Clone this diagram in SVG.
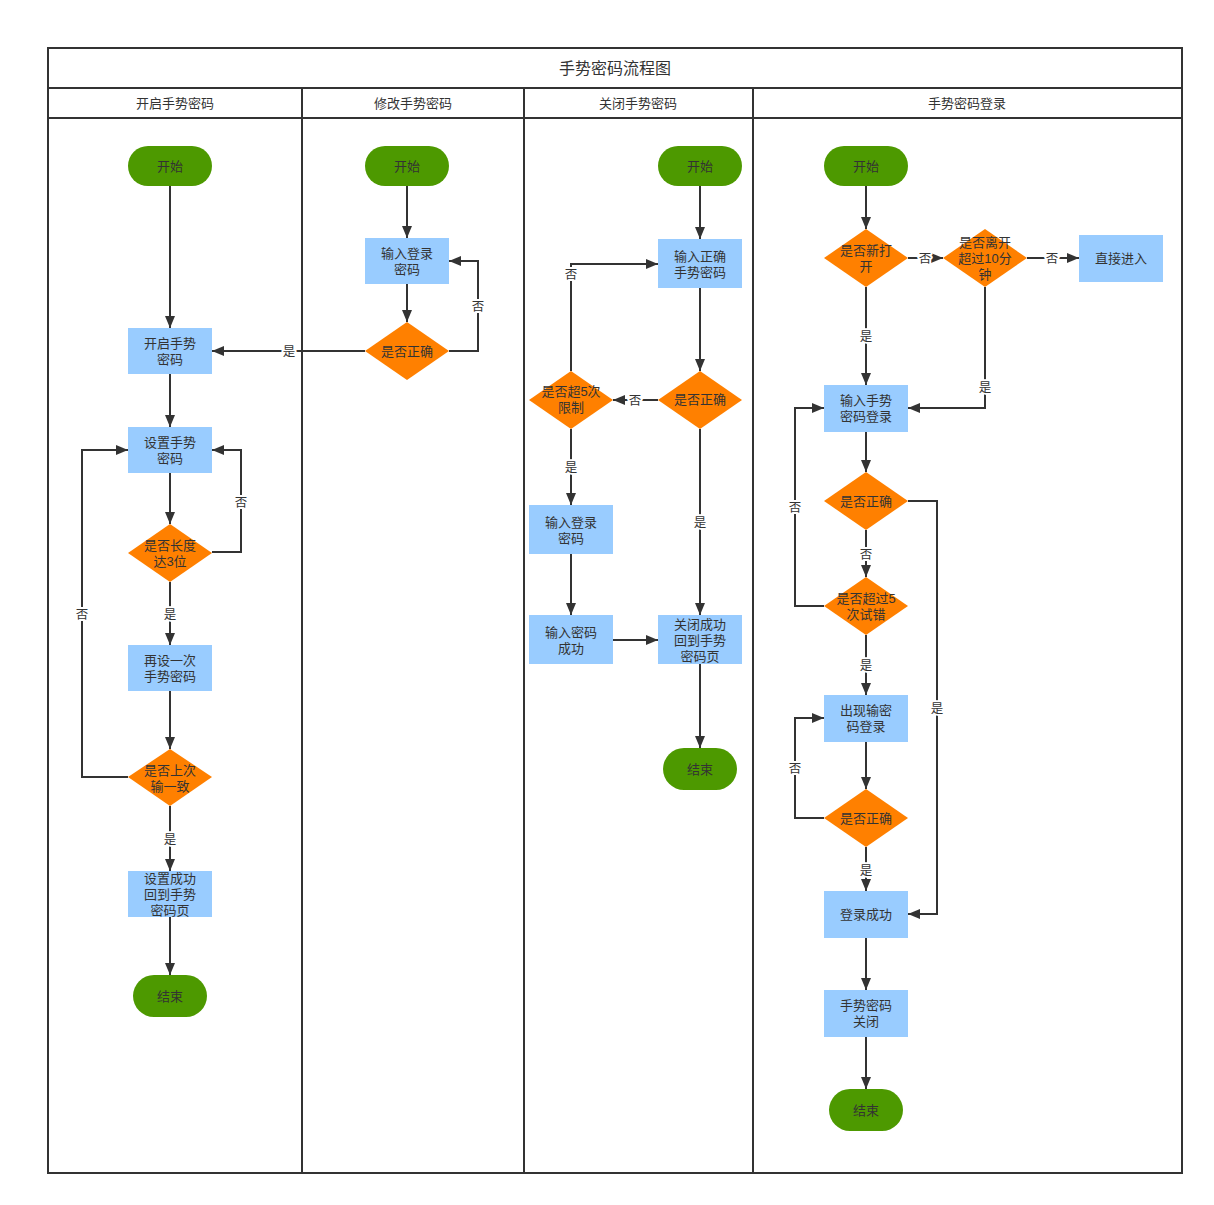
<svg xmlns="http://www.w3.org/2000/svg" width="1214" height="1205" viewBox="0 0 1214 1205">
<defs>
<style>
text{font-family:"Liberation Sans","Noto Sans CJK SC",sans-serif;fill:#333;text-anchor:middle;dominant-baseline:central;font-size:13px;transform:translate(0px,1px)}
.frame{fill:none;stroke:#333;stroke-width:2}
.term{fill:#4d9900}
.proc{fill:#99ccff}
.dec{fill:#ff8000}
.edge{fill:none;stroke:#333;stroke-width:2}
.lbl{stroke:#fff;stroke-width:4;paint-order:stroke;stroke-linejoin:round;font-size:12.5px}
.title{font-size:16px}
.hdr{font-size:13px}
</style>
<marker id="arr" markerWidth="12" markerHeight="12" viewBox="0 0 12 12" refX="12" refY="6" orient="auto" markerUnits="userSpaceOnUse">
<path d="M0,1 L12,6 L0,11 Z" fill="#333"/>
</marker>
</defs>
<rect width="1214" height="1205" fill="#fff"/>
<g id="pool">
<rect class="frame" x="48" y="48" width="1134" height="1125"/>
<line class="frame" x1="48" y1="88" x2="1182" y2="88"/>
<line class="frame" x1="48" y1="118" x2="1182" y2="118"/>
<line class="frame" x1="302" y1="88" x2="302" y2="1173"/>
<line class="frame" x1="524" y1="88" x2="524" y2="1173"/>
<line class="frame" x1="753" y1="88" x2="753" y2="1173"/>
<text class="title" x="615" y="67">手势密码流程图</text>
<text class="hdr" x="175" y="102">开启手势密码</text>
<text class="hdr" x="413" y="102">修改手势密码</text>
<text class="hdr" x="638" y="102">关闭手势密码</text>
<text class="hdr" x="967" y="102">手势密码登录</text>
</g>
<g id="connectors">
<path class="edge" d="M170,186 V328" marker-end="url(#arr)"/>
<path class="edge" d="M170,374 V427" marker-end="url(#arr)"/>
<path class="edge" d="M170,473 V524" marker-end="url(#arr)"/>
<path class="edge" d="M212,552 H241 V450 H212" marker-end="url(#arr)"/>
<path class="edge" d="M170,582 V645" marker-end="url(#arr)"/>
<path class="edge" d="M170,691 V749" marker-end="url(#arr)"/>
<path class="edge" d="M128,777 H82 V450 H128" marker-end="url(#arr)"/>
<path class="edge" d="M170,806 V871" marker-end="url(#arr)"/>
<path class="edge" d="M170,917 V975" marker-end="url(#arr)"/>
<path class="edge" d="M407,186 V238" marker-end="url(#arr)"/>
<path class="edge" d="M407,284 V322" marker-end="url(#arr)"/>
<path class="edge" d="M449,351 H478 V261 H449" marker-end="url(#arr)"/>
<path class="edge" d="M365,351 H212" marker-end="url(#arr)"/>
<path class="edge" d="M700,186 V239" marker-end="url(#arr)"/>
<path class="edge" d="M700,288 V371" marker-end="url(#arr)"/>
<path class="edge" d="M658,400 H613" marker-end="url(#arr)"/>
<path class="edge" d="M571,371 V264 H658" marker-end="url(#arr)"/>
<path class="edge" d="M571,429 V505" marker-end="url(#arr)"/>
<path class="edge" d="M571,554 V615" marker-end="url(#arr)"/>
<path class="edge" d="M613,640 H658" marker-end="url(#arr)"/>
<path class="edge" d="M700,429 V615" marker-end="url(#arr)"/>
<path class="edge" d="M700,664 V748" marker-end="url(#arr)"/>
<path class="edge" d="M866,186 V229" marker-end="url(#arr)"/>
<path class="edge" d="M908,258 H943" marker-end="url(#arr)"/>
<path class="edge" d="M1027,258 H1079" marker-end="url(#arr)"/>
<path class="edge" d="M866,287 V385" marker-end="url(#arr)"/>
<path class="edge" d="M985,287 V408 H908" marker-end="url(#arr)"/>
<path class="edge" d="M866,432 V472" marker-end="url(#arr)"/>
<path class="edge" d="M866,530 V577" marker-end="url(#arr)"/>
<path class="edge" d="M908,501 H937 V914 H908" marker-end="url(#arr)"/>
<path class="edge" d="M824,606 H795 V408 H824" marker-end="url(#arr)"/>
<path class="edge" d="M866,635 V695" marker-end="url(#arr)"/>
<path class="edge" d="M866,742 V789" marker-end="url(#arr)"/>
<path class="edge" d="M824,818 H795 V718 H824" marker-end="url(#arr)"/>
<path class="edge" d="M866,847 V891" marker-end="url(#arr)"/>
<path class="edge" d="M866,938 V990" marker-end="url(#arr)"/>
<path class="edge" d="M866,1037 V1089" marker-end="url(#arr)"/>
<text class="lbl" x="241" y="502">否</text>
<text class="lbl" x="170" y="614">是</text>
<text class="lbl" x="82" y="614">否</text>
<text class="lbl" x="170" y="839">是</text>
<text class="lbl" x="478" y="306">否</text>
<text class="lbl" x="289" y="351">是</text>
<text class="lbl" x="635" y="400">否</text>
<text class="lbl" x="571" y="274">否</text>
<text class="lbl" x="571" y="467">是</text>
<text class="lbl" x="700" y="522">是</text>
<text class="lbl" x="925" y="258">否</text>
<text class="lbl" x="1052" y="258">否</text>
<text class="lbl" x="866" y="336">是</text>
<text class="lbl" x="985" y="387">是</text>
<text class="lbl" x="866" y="554">否</text>
<text class="lbl" x="937" y="708">是</text>
<text class="lbl" x="795" y="507">否</text>
<text class="lbl" x="866" y="665">是</text>
<text class="lbl" x="795" y="768">否</text>
<text class="lbl" x="866" y="870">是</text>
</g>
<g id="l1-start"><rect class="term" x="128" y="146" width="84" height="40" rx="20"/><text x="170" y="165">开始</text></g>
<g id="l1-open"><rect class="proc" x="128" y="328" width="84" height="46"/><text x="170" y="342"><tspan x="170">开启手势</tspan><tspan x="170" dy="16">密码</tspan></text></g>
<g id="l1-set"><rect class="proc" x="128" y="427" width="84" height="46"/><text x="170" y="441"><tspan x="170">设置手势</tspan><tspan x="170" dy="16">密码</tspan></text></g>
<g id="l1-len"><polygon class="dec" points="170,524 212,553 170,582 128,553"/><text x="170" y="544"><tspan x="170">是否长度</tspan><tspan x="170" dy="16">达3位</tspan></text></g>
<g id="l1-again"><rect class="proc" x="128" y="645" width="84" height="46"/><text x="170" y="659"><tspan x="170">再设一次</tspan><tspan x="170" dy="16">手势密码</tspan></text></g>
<g id="l1-same"><polygon class="dec" points="170,749 212,777 170,806 128,777"/><text x="170" y="769"><tspan x="170">是否上次</tspan><tspan x="170" dy="16">输一致</tspan></text></g>
<g id="l1-ok"><rect class="proc" x="128" y="871" width="84" height="46"/><text x="170" y="877"><tspan x="170">设置成功</tspan><tspan x="170" dy="16">回到手势</tspan><tspan x="170" dy="16">密码页</tspan></text></g>
<g id="l1-end"><rect class="term" x="133" y="975" width="74" height="42" rx="21"/><text x="170" y="995">结束</text></g>
<g id="l2-start"><rect class="term" x="365" y="146" width="84" height="40" rx="20"/><text x="407" y="165">开始</text></g>
<g id="l2-input"><rect class="proc" x="365" y="238" width="84" height="46"/><text x="407" y="252"><tspan x="407">输入登录</tspan><tspan x="407" dy="16">密码</tspan></text></g>
<g id="l2-check"><polygon class="dec" points="407,322 449,351 407,380 365,351"/><text x="407" y="350">是否正确</text></g>
<g id="l3-start"><rect class="term" x="658" y="146" width="84" height="40" rx="20"/><text x="700" y="165">开始</text></g>
<g id="l3-input"><rect class="proc" x="658" y="239" width="84" height="49"/><text x="700" y="255"><tspan x="700">输入正确</tspan><tspan x="700" dy="16">手势密码</tspan></text></g>
<g id="l3-check"><polygon class="dec" points="700,371 742,400 700,429 658,400"/><text x="700" y="398">是否正确</text></g>
<g id="l3-limit"><polygon class="dec" points="571,371 613,400 571,429 529,400"/><text x="571" y="390"><tspan x="571">是否超5次</tspan><tspan x="571" dy="16">限制</tspan></text></g>
<g id="l3-login"><rect class="proc" x="529" y="505" width="84" height="49"/><text x="571" y="521"><tspan x="571">输入登录</tspan><tspan x="571" dy="16">密码</tspan></text></g>
<g id="l3-success"><rect class="proc" x="529" y="615" width="84" height="49"/><text x="571" y="631"><tspan x="571">输入密码</tspan><tspan x="571" dy="16">成功</tspan></text></g>
<g id="l3-closed"><rect class="proc" x="658" y="615" width="84" height="49"/><text x="700" y="623"><tspan x="700">关闭成功</tspan><tspan x="700" dy="16">回到手势</tspan><tspan x="700" dy="16">密码页</tspan></text></g>
<g id="l3-end"><rect class="term" x="663" y="748" width="74" height="42" rx="21"/><text x="700" y="768">结束</text></g>
<g id="l4-start"><rect class="term" x="824" y="146" width="84" height="40" rx="20"/><text x="866" y="165">开始</text></g>
<g id="l4-new"><polygon class="dec" points="866,229 908,258 866,287 824,258"/><text x="866" y="249"><tspan x="866">是否新打</tspan><tspan x="866" dy="16">开</tspan></text></g>
<g id="l4-away"><polygon class="dec" points="985,229 1027,258 985,287 943,258"/><text x="985" y="241"><tspan x="985">是否离开</tspan><tspan x="985" dy="16">超过10分</tspan><tspan x="985" dy="16">钟</tspan></text></g>
<g id="l4-direct"><rect class="proc" x="1079" y="235" width="84" height="47"/><text x="1121" y="257">直接进入</text></g>
<g id="l4-gesture"><rect class="proc" x="824" y="385" width="84" height="47"/><text x="866" y="399"><tspan x="866">输入手势</tspan><tspan x="866" dy="16">密码登录</tspan></text></g>
<g id="l4-check1"><polygon class="dec" points="866,472 908,501 866,530 824,501"/><text x="866" y="500">是否正确</text></g>
<g id="l4-five"><polygon class="dec" points="866,577 908,606 866,635 824,606"/><text x="866" y="597"><tspan x="866">是否超过5</tspan><tspan x="866" dy="16">次试错</tspan></text></g>
<g id="l4-pwd"><rect class="proc" x="824" y="695" width="84" height="47"/><text x="866" y="709"><tspan x="866">出现输密</tspan><tspan x="866" dy="16">码登录</tspan></text></g>
<g id="l4-check2"><polygon class="dec" points="866,789 908,818 866,847 824,818"/><text x="866" y="817">是否正确</text></g>
<g id="l4-ok"><rect class="proc" x="824" y="891" width="84" height="47"/><text x="866" y="913">登录成功</text></g>
<g id="l4-close"><rect class="proc" x="824" y="990" width="84" height="47"/><text x="866" y="1004"><tspan x="866">手势密码</tspan><tspan x="866" dy="16">关闭</tspan></text></g>
<g id="l4-end"><rect class="term" x="829" y="1089" width="74" height="42" rx="21"/><text x="866" y="1109">结束</text></g>
</svg>
